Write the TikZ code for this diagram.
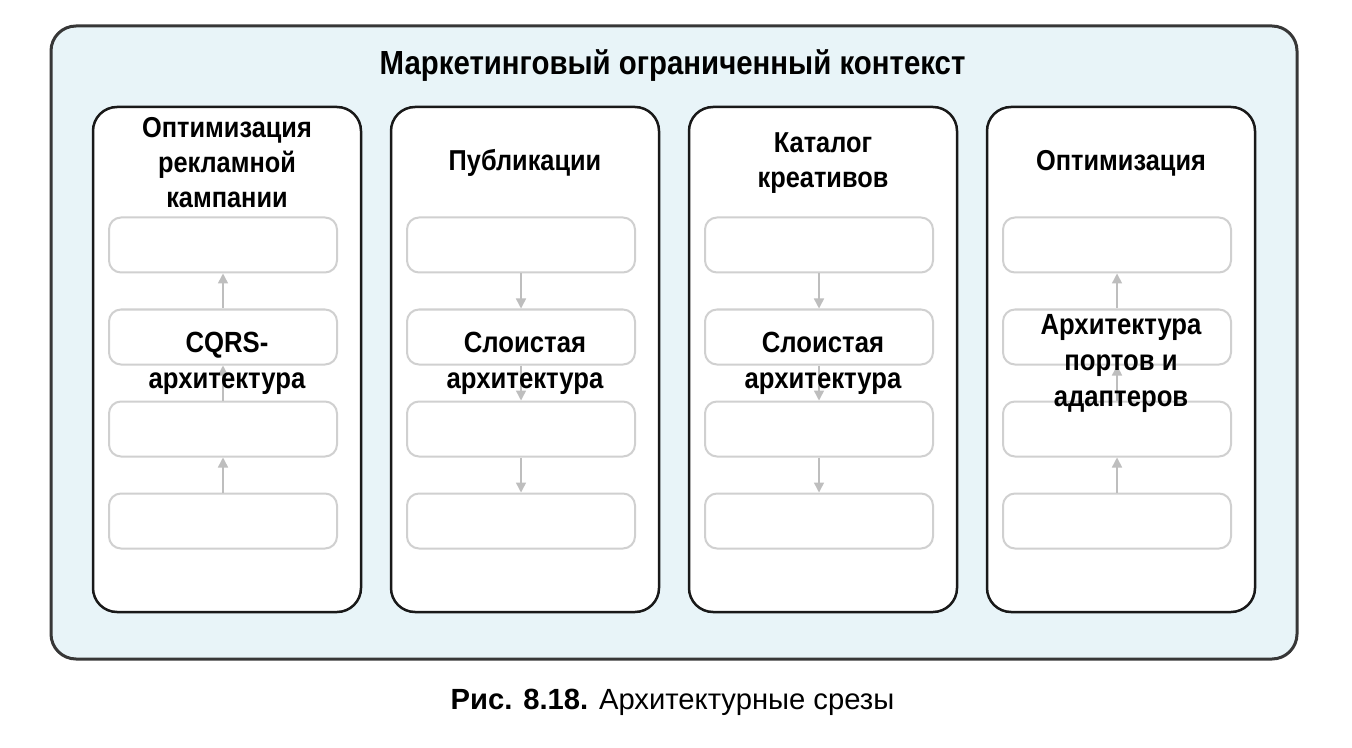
\documentclass[tikz,border=0pt]{standalone}
\usepackage{fontspec}
\setmainfont{Liberation Sans}
\newfontfamily\narrowfont[FakeStretch=0.88]{Liberation Sans}
\usetikzlibrary{arrows.meta}

\begin{document}
\begin{tikzpicture}[x=0.5pt,y=-0.5pt,
	ctxbox/.style={draw=CTXLINE,line width=1.5pt,fill=CTX,rounded corners=12.5pt,minimum width=623pt,minimum height=316.5pt},
	slicebox/.style={draw=SLICELINE,line width=1.25pt,fill=white,rounded corners=12pt,minimum width=134pt,minimum height=252.5pt},
	laybox/.style={draw=LAYLINE,line width=1pt,fill=white,rounded corners=6pt,minimum width=114pt,minimum height=27.5pt},
	layarrow/.style={draw=ARR,line width=0.75pt,>={Triangle[length=5pt,width=5pt]}},
	upflow/.style={<-},
	downflow/.style={->},
	ctxname/.style={inner sep=0pt,font=\narrowfont\bfseries\fontsize{16.7pt}{20pt}\selectfont},
	slicename/.style={inner sep=0pt,align=center,font=\narrowfont\bfseries\fontsize{14.4pt}{17.5pt}\selectfont},
	archname/.style={inner sep=0pt,align=center,font=\narrowfont\bfseries\fontsize{14.6pt}{18pt}\selectfont}]
\definecolor{CTX}{RGB}{232,244,248}
\definecolor{CTXLINE}{RGB}{55,55,55}
\definecolor{SLICELINE}{RGB}{25,25,25}
\definecolor{LAYLINE}{RGB}{208,208,208}
\definecolor{ARR}{RGB}{190,190,190}

\useasboundingbox (0,0) rectangle (1352,748);

% Bounded context
\node[ctxbox] (ctx) at (674,342.5) {};
\node[ctxname,anchor=base] (ctxtitle) at (672.5,75) {Маркетинговый ограниченный контекст};

% Slices and their layers
\foreach \i in {0,...,3}{
	\node[slicebox] (col\i) at (227+298*\i,359.5) {};
	\foreach \j in {0,...,3}{
		\node[laybox] (lay\i\j) at (223+298*\i,245+92*\j) {};
	}
}

% Flow between layers
\foreach \i/\flow in {0/upflow,1/downflow,2/downflow,3/upflow}{
\foreach \j/\k in {0/1,1/2,2/3}{
	\draw[layarrow,\flow] (lay\i\j) -- (lay\i\k);
}
}

% Slice names
\foreach \i/\lbl in {0/{Оптимизация\\рекламной\\кампании},1/Публикации,2/{Каталог\\креативов},3/Оптимизация}{
	\node[slicename] (name\i) at (227+298*\i,163) {\lbl};
}

% Architecture of each slice
\foreach \i/\arch in {0/{CQRS-\\архитектура},1/{Слоистая\\архитектура},2/{Слоистая\\архитектура},3/{Архитектура\\портов и\\адаптеров}}{
	\node[archname] (arch\i) at (227+298*\i,363) {\arch};
}

\node[anchor=base,font=\fontsize{14.6pt}{18pt}\selectfont] (caption) at (672.5,709) {\textbf{Рис. 8.18.} Архитектурные срезы};

\end{tikzpicture}
\end{document}
